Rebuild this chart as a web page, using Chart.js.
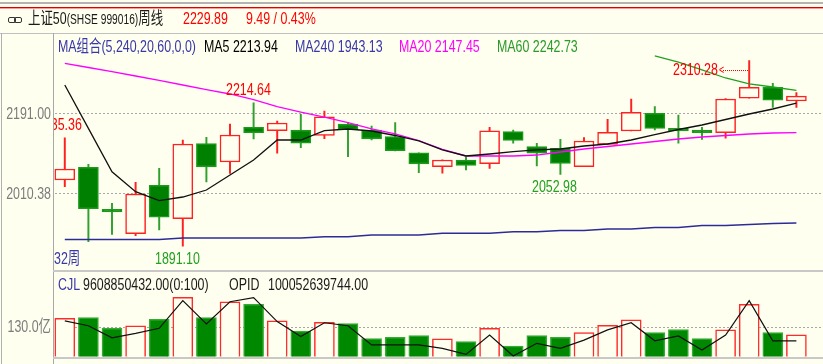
<!DOCTYPE html>
<html>
<head>
<meta charset="utf-8">
<script src="https://cdn.jsdelivr.net/npm/chart.js@4.4.0/dist/chart.umd.min.js"></script>
<style>
html, body { margin: 0; padding: 0; background: #fffff0; overflow: hidden; }
#wrap { position: relative; width: 823px; height: 364px; background: #fffff0; }
canvas { position: absolute; left: 0; top: 0; }
.ln { position: absolute; }
.t { position: absolute; white-space: nowrap; font: 17px/17px "Liberation Sans", "Noto Sans CJK SC", sans-serif; transform: scaleX(0.73); transform-origin: 0 0; }
.red { color: #ff0000; }
.navy { color: #3838a8; }
.grn { color: #22a022; }
.dark { color: #1a1a1a; }
</style>
</head>
<body>
<div id="wrap">
  <div class="ln" style="left:0;top:2px;width:823px;height:2px;background:#b4b4b4"></div>
  <div class="ln" style="left:0;top:7px;width:823px;height:1px;background:#e00000"></div>
  <div class="ln" style="left:0;top:8px;width:823px;height:1px;background:#ff9a9a"></div>
  <div class="ln" style="left:0;top:33px;width:823px;height:1px;background:#c0c0c0"></div>
  <div class="ln" style="left:1px;top:33px;width:1px;height:331px;background:#b0b0b0"></div>
  <div class="ln" style="left:53px;top:33px;width:1px;height:331px;background:#a8a8a8"></div>
  <div class="ln" style="left:53px;top:270px;width:770px;height:2px;background:#c8c8c8"></div>
  <div class="ln" style="left:53px;top:357px;width:770px;height:2px;background:#c8c8c8"></div>

  <canvas id="price" width="823" height="364"></canvas>
  <canvas id="volume" width="823" height="364"></canvas>

  <!-- title row -->
  <div class="ln" style="left:8px;top:17px;width:6px;height:4px;border:1.5px solid #333;border-radius:2px"></div>
  <div class="ln" style="left:14px;top:17px;width:6px;height:4px;border:1.5px solid #333;border-radius:2px"></div>
  <div class="t dark" style="left:28px;top:10px">上证50<span style="font-size:14px">(SHSE 999016)</span>周线</div>
  <div class="t red" style="left:183px;top:10px">2229.89</div>
  <div class="t red" style="left:246px;top:10px">9.49 / 0.43%</div>

  <!-- MA legend row -->
  <div class="t navy" style="left:58px;top:38px">MA组合(5,240,20,60,0,0)</div>
  <div class="t" style="left:204px;top:38px;color:#000">MA5 2213.94</div>
  <div class="t navy" style="left:295px;top:38px">MA240 1943.13</div>
  <div class="t" style="left:399px;top:38px;color:#ff00ff">MA20 2147.45</div>
  <div class="t" style="left:497px;top:38px;color:#2a9a2a">MA60 2242.73</div>

  <!-- price annotations -->
  <div class="ln" style="left:54px;top:114px;width:40px;height:22px;overflow:hidden">
    <div class="t red" style="left:-17px;top:2px">2135.36</div>
  </div>
  <div class="t red" style="left:226px;top:81px">2214.64</div>
  <div class="t navy" style="left:54px;top:250px">32周</div>
  <div class="t grn" style="left:155px;top:250px">1891.10</div>
  <div class="t grn" style="left:532px;top:178px">2052.98</div>
  <div class="t red" style="left:673px;top:61px">2310.28</div>
  <div class="t red" style="left:719px;top:62px;font-size:12px">&lt;</div>
  <div class="ln" style="left:723px;top:70px;width:25px;height:0;border-top:1px dotted #ff0000"></div>

  <!-- volume legend row -->
  <div class="t navy" style="left:58px;top:276px">CJL</div>
  <div class="t dark" style="left:83px;top:276px">9608850432.00(0:100)</div>
  <div class="t dark" style="left:229px;top:276px">OPID</div>
  <div class="t dark" style="left:268px;top:276px">100052639744.00</div>
</div>

<script>
// weekly candles, 32 weeks
const weeks = ['1', '2', '3', '4', '5', '6', '7', '8', '9', '10', '11', '12', '13', '14', '15', '16',
    '17', '18', '19', '20', '21', '22', '23', '24', '25', '26', '27', '28', '29', '30', '31', '32'];

const openPrice = [2040.4, 2069.1, 1974.3, 1919.2, 2028.4, 1953.0, 2122.4, 2081.0, 2159.4, 2151.7, 2153.3, 2141.3, 2166.8, 2153.3, 2138.2, 2102.0,
    2070.4, 2085.6, 2077.2, 2149.5, 2115.6, 2112.0, 2070.4, 2121.0, 2151.0, 2191.0, 2157.1, 2153.3, 2147.2, 2224.9, 2249.7, 2218.8];
const closePrice = [2065.2, 1975.6, 1968.2, 2008.8, 1956.2, 2121.7, 2069.8, 2142.0, 2147.2, 2169.1, 2123.3, 2183.3, 2154.0, 2133.0, 2106.6, 2076.5,
    2085.6, 2073.6, 2151.7, 2130.0, 2100.7, 2078.1, 2128.5, 2148.1, 2193.3, 2157.1, 2151.0, 2147.2, 2223.3, 2249.7, 2220.4, 2229.89];
const highPrice = [2135.36, 2075.9, 1987.8, 2035.2, 2066.8, 2130.7, 2136.8, 2166.8, 2214.64, 2173.6, 2188.7, 2196.2, 2170.7, 2162.3, 2169.8, 2102.0,
    2086.0, 2091.7, 2159.4, 2153.3, 2123.3, 2132.3, 2135.9, 2177.5, 2223.3, 2205.9, 2187.2, 2159.4, 2224.0, 2310.28, 2258.7, 2237.5];
const lowPrice = [2025.3, 1901.1, 1917.8, 1914.6, 1927.5, 1891.10, 2035.9, 2055.5, 2133.0, 2100.7, 2113.3, 2133.7, 2093.0, 2130.7, 2105.9, 2056.9,
    2056.0, 2063.0, 2066.8, 2123.3, 2072.0, 2052.98, 2070.4, 2121.0, 2151.0, 2153.3, 2123.3, 2132.3, 2134.6, 2224.9, 2204.5, 2204.5];

const ma5 = [2254.9, 2157.0, 2059.1, 2014.0, 1993.7, 2002.0, 2017.8, 2051.7, 2085.6, 2130.7, 2130.7, 2151.7, 2155.6, 2151.0, 2140.9, 2128.5,
    2108.2, 2094.6, 2099.1, 2104.3, 2108.2, 2110.4, 2117.2, 2121.7, 2130.7, 2143.1, 2154.4, 2164.6, 2177.0, 2189.4, 2200.7, 2213.94];
const ma20 = [2303.9, 2294.4, 2284.9, 2275.2, 2265.1, 2254.9, 2244.7, 2234.6, 2221.7, 2206.1, 2193.9, 2182.2, 2169.7, 2156.0, 2144.7, 2129.6,
    2109.5, 2094.6, 2094.6, 2094.6, 2096.8, 2103.6, 2110.4, 2116.0, 2121.7, 2127.3, 2133.0, 2137.5, 2140.9, 2144.3, 2146.5, 2147.45];
const ma60 = [null, null, null, null, null, null, null, null, null, null, null, null, null, null, null, null,
    null, null, null, null, null, null, null, null, null, 2320.4, 2306.8, 2288.8, 2270.7, 2257.2, 2250.4, 2242.73];
const ma240 = [1906.1, 1906.1, 1906.1, 1906.1, 1906.1, 1909.5, 1909.5, 1909.5, 1909.5, 1909.5, 1909.5, 1912.4, 1912.4, 1916.2, 1916.2, 1916.2,
    1920.1, 1920.1, 1920.1, 1923.7, 1923.7, 1926.4, 1926.4, 1929.8, 1929.8, 1933.2, 1933.2, 1937.7, 1937.7, 1940.0, 1942.2, 1943.13];

// volume in 亿, and the black line of the volume panel
const volume = [166, 169, 123, 134, 162, 257, 169, 238, 227, 155, 111, 149, 144, 78, 84, 91,
    77, 66, 123, 46, 91, 84, 104, 136, 160, 105, 117, 79, 116, 227, 105, 95];
const volLine = [155, 134, 82, 101, 123, 243, 142, 238, 256, 152, 87, 147, 134, 51, 51, 51,
    36, 10, 94, 3, 58, 36, 72, 116, 147, 69, 90, 29, 94, 243, 69, 69];

const priceTicks = [2010.38, 2191.00];
const volumeTicks = [130.0];

const BG = '#fffff0';
const isUp = openPrice.map((o, i) => closePrice[i] >= o);

const axisLabels = {
    id: 'axisLabels',
    beforeDatasetsDraw(chart, args, o) {
        const ctx = chart.ctx;
        const y = chart.scales.y;
        ctx.save();
        ctx.strokeStyle = '#a8a8a8';
        ctx.lineWidth = 1;
        ctx.setLineDash([2, 2]);
        o.ticks.forEach(function (v) {
            const py = Math.round(y.getPixelForValue(v)) + 0.5;
            ctx.beginPath();
            ctx.moveTo(chart.chartArea.left + 2, py);
            ctx.lineTo(chart.width - 2, py);
            ctx.stroke();
        });
        ctx.restore();
    },
    afterDraw(chart, args, o) {
        const ctx = chart.ctx;
        const y = chart.scales.y;
        ctx.save();
        ctx.fillStyle = '#7c7c7c';
        ctx.font = '17px "Liberation Sans", "Noto Sans CJK SC", sans-serif';
        ctx.textAlign = 'right';
        ctx.textBaseline = 'middle';
        o.ticks.forEach(function (v) {
            ctx.save();
            ctx.translate(51, y.getPixelForValue(v) + 1);
            ctx.scale(0.73, 1);
            ctx.fillText(v.toFixed(o.digits) + o.suffix, 0, 0);
            ctx.restore();
        });
        ctx.restore();
    }
};

function maLine(data, color, width) {
    return {
        type: 'line',
        data: data,
        borderColor: color,
        borderWidth: width,
        pointRadius: 0,
        tension: 0,
        order: 0
    };
}

new Chart(document.getElementById('price'), {
    type: 'bar',
    data: {
        labels: weeks,
        datasets: [
            maLine(ma5, '#111111', 1.3),
            maLine(ma20, '#ff00ff', 1.3),
            maLine(ma60, '#22a022', 1.3),
            maLine(ma240, '#2c2c98', 1.5),
            {
                data: openPrice.map((o, i) => [o, closePrice[i]]),
                backgroundColor: isUp.map(u => u ? BG : '#008000'),
                borderColor: isUp.map(u => u ? '#ff2020' : '#1c9a1c'),
                borderWidth: 1.5,
                borderSkipped: false,
                barThickness: 20,
                grouped: false,
                order: 1
            },
            {
                data: lowPrice.map((l, i) => [l, highPrice[i]]),
                backgroundColor: isUp.map(u => u ? '#ff2020' : '#30a030'),
                barThickness: 1.3,
                grouped: false,
                order: 2
            }
        ]
    },
    options: {
        responsive: false,
        animation: false,
        events: [],
        layout: { padding: { left: 53, right: 14.8, top: 33, bottom: 94 } },
        plugins: {
            legend: { display: false },
            tooltip: { enabled: false },
            axisLabels: { ticks: priceTicks, digits: 2, suffix: '' }
        },
        scales: {
            x: { display: false, offset: true },
            y: { display: false, min: 1837.2, max: 2372.3 }
        }
    },
    plugins: [axisLabels]
});

new Chart(document.getElementById('volume'), {
    type: 'bar',
    data: {
        labels: weeks,
        datasets: [
            {
                type: 'line',
                data: volLine,
                borderColor: '#111111',
                borderWidth: 1.2,
                pointRadius: 0,
                tension: 0,
                order: 0
            },
            {
                data: volume,
                backgroundColor: isUp.map(u => u ? BG : '#008800'),
                borderColor: isUp.map(u => u ? '#ff2a2a' : '#36aa36'),
                borderWidth: 1.5,
                barThickness: 20,
                order: 1
            }
        ]
    },
    options: {
        responsive: false,
        animation: false,
        events: [],
        layout: { padding: { left: 53, right: 14.8, top: 285, bottom: 7.3 } },
        plugins: {
            legend: { display: false },
            tooltip: { enabled: false },
            axisLabels: { ticks: volumeTicks, digits: 1, suffix: '亿' }
        },
        scales: {
            x: { display: false, offset: true },
            y: { display: false, min: 0, max: 310.7 }
        }
    },
    plugins: [axisLabels]
});
</script>
</body>
</html>
